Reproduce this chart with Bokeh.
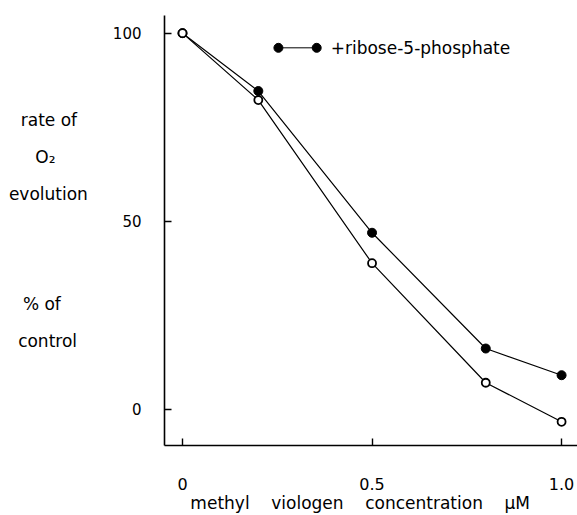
from bokeh.plotting import figure
from bokeh.models import Range1d, FixedTicker, Label
from bokeh.embed import file_html
from bokeh.resources import INLINE

# ---- data ----
conc = [0.0, 0.2, 0.5, 0.8, 1.0]                 # methyl viologen, uM
with_r5p = [100.0, 84.6, 46.9, 16.1, 9.0]        # + ribose-5-phosphate (filled)
control = [100.0, 82.2, 38.8, 7.0, -3.4]         # without addition (open)
x_ticks = [0, 0.5, 1.0]
x_tick_labels = {0: "0", 0.5: "0.5", 1.0: "1.0"}
y_ticks = [0, 50, 100]

FONT = "DejaVu Sans"
NB = "\u00a0"

p = figure(width=577, height=515, output_backend="svg", toolbar_location=None,
           x_range=Range1d(-0.0475, 1.042), y_range=Range1d(-9.7, 104.7),
           min_border_left=164, min_border_right=0, min_border_top=15,
           min_border_bottom=63)
p.outline_line_color = None
p.xgrid.visible = False
p.ygrid.visible = False
p.background_fill_color = "white"
p.border_fill_color = "white"

for ax in (p.xaxis[0], p.yaxis[0]):
    ax.axis_line_color = "black"
    ax.axis_line_width = 1.6
    ax.major_tick_line_color = "black"
    ax.major_tick_line_width = 1.4
    ax.major_tick_in = 7
    ax.major_tick_out = 0
    ax.minor_tick_line_color = None
    ax.major_label_text_font = FONT
    ax.major_label_text_color = "black"
    ax.axis_label_text_font = FONT
    ax.axis_label_text_font_style = "normal"
    ax.axis_label_text_color = "black"

xa = p.xaxis[0]
xa.ticker = FixedTicker(ticks=x_ticks)
xa.major_label_overrides = x_tick_labels
xa.major_label_standoff = 32
xa.major_label_text_font_size = "16px"
xa.axis_label = ("methyl" + NB * 4 + "viologen" + NB * 4 + "concentration"
                 + NB * 4 + "µM" + NB * 4)
xa.axis_label_text_font_size = "17px"
xa.axis_label_standoff = 0

ya = p.yaxis[0]
ya.ticker = FixedTicker(ticks=y_ticks)
ya.major_label_standoff = 23
ya.major_label_text_font_size = "15px"
ya.axis_label = ("rate of" + NB * 2 + "\n"
                 + "O₂" + NB * 6 + "\n"
                 + "evolution\n"
                 + NB + "\n" + NB + "\n"
                 + "% of" + NB * 5 + "\n"
                 + "control" + NB * 2)
ya.axis_label_orientation = "horizontal"
ya.axis_label_text_font_size = "17px"
ya.axis_label_text_align = "center"
ya.axis_label_text_line_height = 1.84
ya.axis_label_standoff = 22

# ---- series ----
p.line(conc, control, line_color="black", line_width=1.2)
p.line(conc, with_r5p, line_color="black", line_width=1.2)
p.scatter(conc, with_r5p, size=9, fill_color="black", line_color="black")
p.scatter(conc, control, size=8, fill_color="white", line_color="black", line_width=1.8)

# ---- legend (drawn like the original: dot — dot + text) ----
LEG_Y = 96.1
p.line([0.253, 0.354], [LEG_Y, LEG_Y], line_color="black", line_width=1)
p.scatter([0.253, 0.354], [LEG_Y, LEG_Y], size=9, fill_color="black", line_color="black")
p.add_layout(Label(x=0.391, y=LEG_Y, text="+ribose-5-phosphate", text_font=FONT,
                   text_font_size="17px", text_baseline="middle", text_align="left",
                   text_color="black"))

open("out.html", "w").write(file_html(p, INLINE))
